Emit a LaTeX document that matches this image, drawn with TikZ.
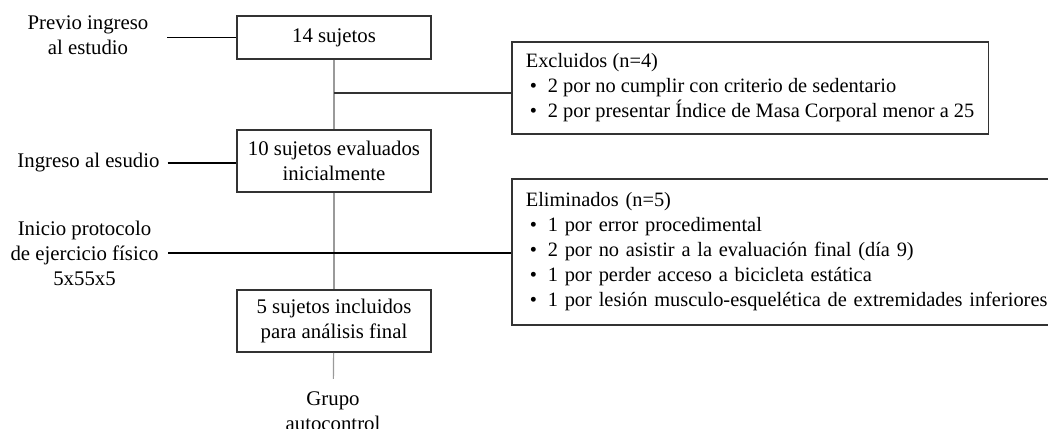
\documentclass[tikz,border=0pt]{standalone}
\usepackage{fontspec}
\setmainfont{Liberation Serif}
\definecolor{marco}{HTML}{333333}
\definecolor{gristronco}{HTML}{9A9A9A}
\newcommand{\punto}{\hspace*{2pt}\makebox[9pt][l]{\textbullet}}

\tikzset{
  caja/.style={draw=marco, line width=0.8pt, align=center, minimum width=97pt, inner sep=2pt},
  lista/.style={draw=marco, line width=0.8pt, align=left, anchor=north west, inner xsep=7pt,
    font=\fontsize{10.2}{12.5}\selectfont},
  etiqueta/.style={align=center},
  linea/.style={line width=0.6pt},
  tronco/.style={draw=gristronco, line width=0.6pt}
}

\begin{document}
\begin{tikzpicture}[x=0.5pt, y=-0.5pt, font=\fontsize{10.4}{12.5}\selectfont]
    \clip (0,0) rectangle (1048,428);

    \node[caja, minimum height=21.5pt] (s14) at (334,37.5) {14 sujetos};
    \node[caja, minimum height=31pt] (s10) at (334,161) {10 sujetos evaluados\\inicialmente};
    \node[caja, minimum height=31pt] (s5) at (334,321) {5 sujetos incluidos\\para análisis final};

    \node[lista, minimum width=233pt, minimum height=46pt] (excl) at (511,41)
      {Excluidos (n=4)\\
       \punto 2 por no cumplir con criterio de sedentario\\
       \punto 2 por presentar Índice de Masa Corporal menor a 25};
    \node[lista, text width=271pt, minimum height=73pt] (elim) at (511,178)
      {Eliminados (n=5)\\
       \punto 1 por error procedimental\\
       \punto 2 por no asistir a la evaluación final (día 9)\\
       \punto 1 por perder acceso a bicicleta estática\\
       \punto 1 por lesión musculo-esquelética de extremidades inferiores};

    \node[etiqueta] (previo) at (88,35) {Previo ingreso\\al estudio};
    \node[etiqueta] (ingreso) at (88.5,163) {Ingreso al esudio};
    \node[etiqueta] (inicio) at (84.5,253) {Inicio protocolo\\de ejercicio físico\\5x55x5};
    \node[etiqueta] (grupo) at (333,411.5) {Grupo\\autocontrol};
    \coordinate (cruce) at (334,93);

    % tronco del diagrama
    \draw[tronco] (s14) -- (s10);
    \draw[tronco] (s10) -- (s5);
    \draw[tronco, shorten >=3pt] (s5) -- (grupo);

    % lineas laterales
    \draw[linea, draw=marco] (cruce) -- (cruce -| excl.west);
    \draw[linea, shorten <=6pt] (previo.east |- s14.west) -- (s14.west);
    \draw[linea, shorten <=0.5pt] (ingreso.east) -- (ingreso.east -| s10.west);
    \draw[linea, shorten <=1.5pt] (inicio.east) -- (inicio.east -| elim.west);
\end{tikzpicture}
\end{document}
